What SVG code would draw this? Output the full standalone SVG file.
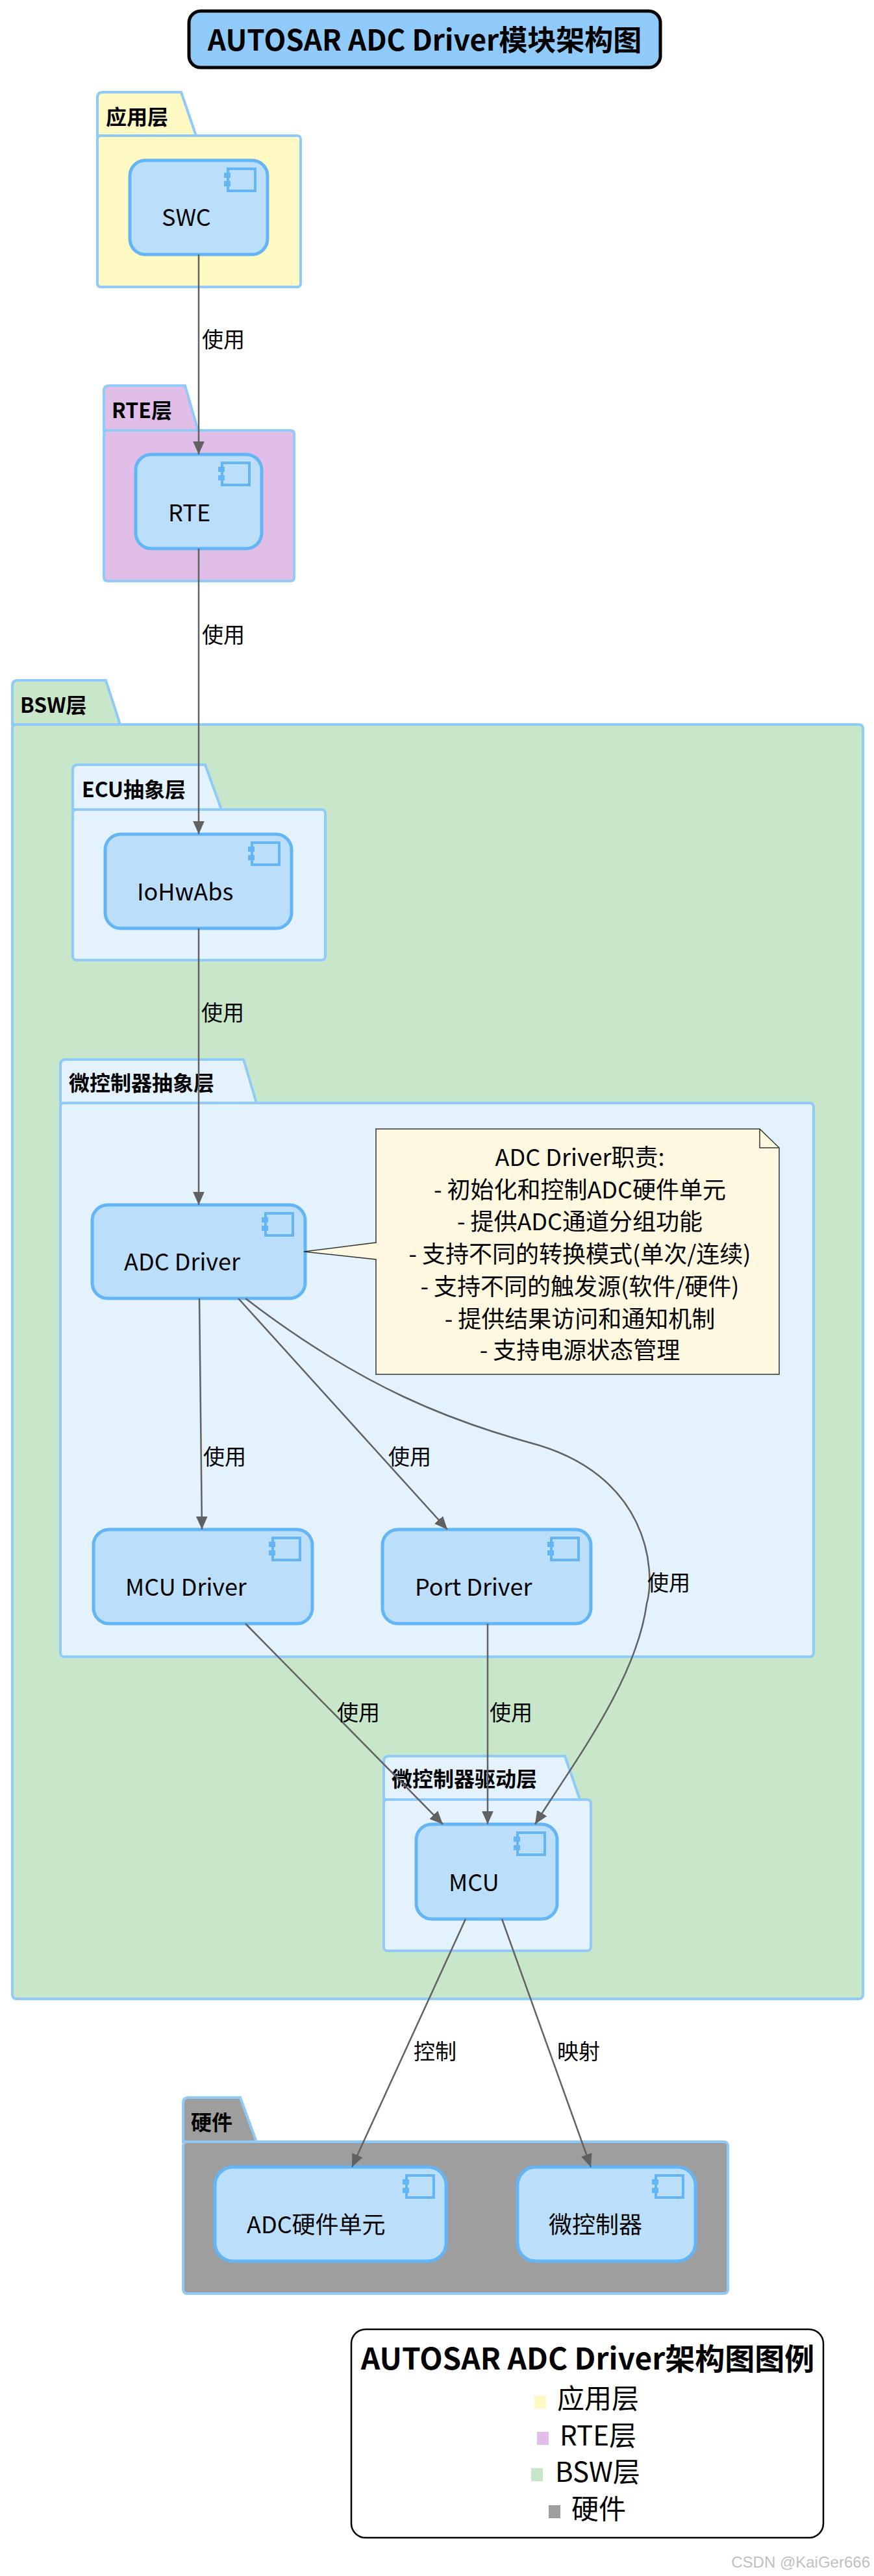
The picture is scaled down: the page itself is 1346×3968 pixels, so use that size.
<svg xmlns="http://www.w3.org/2000/svg" width="1346" height="3968" viewBox="0 0 1346 3968">
<style>
text{font-family:"Noto Sans CJK SC","Noto Sans",sans-serif;fill:#000}
.pk{stroke:#90CAF9;stroke-width:4}
.tab{font-size:32px;font-weight:bold}
.nd{fill:#BBDEFB;stroke:#64B5F6;stroke-width:5}
.nt{font-size:36px}
.ic{fill:#BBDEFB;stroke:#64B5F6;stroke-width:4}
.e{fill:none;stroke:#616161;stroke-width:2.5}
.el{font-size:33px}
.nl{font-size:36px;text-anchor:middle}
.lg{font-size:42px}
</style>
<defs>
<marker id="ah" markerWidth="40" markerHeight="40" viewBox="-20 -20 40 40" refX="0" refY="0" orient="auto" markerUnits="userSpaceOnUse">
<path d="M0,0 L-34,-15 L-24,0 L-34,15 Z" fill="#616161"/>
</marker>
<g id="icon">
<rect class="ic" x="-46" y="0" width="42" height="34"/>
<rect x="-52" y="6" width="10" height="8" fill="#64B5F6"/>
<rect x="-52" y="19" width="10" height="8" fill="#64B5F6"/>
</g>
</defs>
<rect width="1346" height="3968" fill="#fff"/>
<g id="title">
<rect x="291" y="17" width="726" height="87" rx="18" fill="#90CAF9" stroke="#000" stroke-width="5"/>
<text x="654" y="78" font-size="44" font-weight="bold" text-anchor="middle">AUTOSAR ADC Driver模块架构图</text>
</g>
<g id="pkg-app">
<path class="pk" fill="#FFF9C4" d="M150,209 L150,150 Q150,142 158,142 L279,142 L302,209 Z"/>
<rect class="pk" fill="#FFF9C4" x="150" y="209" width="313" height="233" rx="5"/>
<text class="tab" x="163" y="192">应用层</text>
</g>
<g id="pkg-rte">
<path class="pk" fill="#E1BEE7" d="M160,663 L160,602 Q160,594 168,594 L285,594 L305,663 Z"/>
<rect class="pk" fill="#E1BEE7" x="160" y="663" width="293" height="232" rx="5"/>
<text class="tab" x="172" y="644">RTE层</text>
</g>
<g id="pkg-bsw">
<path class="pk" fill="#C8E6C9" d="M19,1116 L19,1056 Q19,1048 27,1048 L163,1048 L185,1116 Z"/>
<rect class="pk" fill="#C8E6C9" x="19" y="1116" width="1310" height="1963" rx="6"/>
<text class="tab" x="31" y="1098">BSW层</text>
</g>
<g id="pkg-ecu">
<path class="pk" fill="#E3F2FD" d="M112,1247 L112,1186 Q112,1178 120,1178 L316,1178 L341,1247 Z"/>
<rect class="pk" fill="#E3F2FD" x="112" y="1247" width="389" height="232" rx="6"/>
<text class="tab" x="126" y="1228">ECU抽象层</text>
</g>
<g id="pkg-mcal">
<path class="pk" fill="#E3F2FD" d="M93,1699 L93,1640 Q93,1632 101,1632 L375,1632 L395,1699 Z"/>
<rect class="pk" fill="#E3F2FD" x="93" y="1699" width="1160" height="853" rx="6"/>
<text class="tab" x="106" y="1680">微控制器抽象层</text>
</g>
<g id="pkg-drv">
<path class="pk" fill="#E3F2FD" d="M591,2772 L591,2713 Q591,2705 599,2705 L870,2705 L893,2772 Z"/>
<rect class="pk" fill="#E3F2FD" x="591" y="2772" width="319" height="233" rx="6"/>
<text class="tab" x="603" y="2752">微控制器驱动层</text>
</g>
<g id="pkg-hw">
<path class="pk" fill="#9E9E9E" d="M282,3299 L282,3239 Q282,3231 290,3231 L370,3231 L395,3299 Z"/>
<rect class="pk" fill="#9E9E9E" x="282" y="3299" width="839" height="234" rx="6"/>
<text class="tab" x="294" y="3281">硬件</text>
</g>
<g id="n-swc"><rect class="nd" x="200" y="247" width="212" height="145" rx="24"/><use href="#icon" x="397" y="260"/><text class="nt" x="249" y="348">SWC</text></g>
<g id="n-rte"><rect class="nd" x="209" y="700" width="194" height="145" rx="24"/><use href="#icon" x="388" y="713"/><text class="nt" x="259" y="803">RTE</text></g>
<g id="n-iohwabs"><rect class="nd" x="162" y="1285" width="287" height="145" rx="24"/><use href="#icon" x="434" y="1298"/><text class="nt" x="211" y="1387">IoHwAbs</text></g>
<g id="n-adc"><rect class="nd" x="142" y="1856" width="328" height="144" rx="24"/><use href="#icon" x="455" y="1869"/><text class="nt" x="191" y="1957">ADC Driver</text></g>
<g id="n-mcudrv"><rect class="nd" x="144" y="2356" width="337" height="145" rx="24"/><use href="#icon" x="466" y="2369"/><text class="nt" x="193" y="2458">MCU Driver</text></g>
<g id="n-portdrv"><rect class="nd" x="589" y="2356" width="321" height="145" rx="24"/><use href="#icon" x="895" y="2369"/><text class="nt" x="639" y="2458">Port Driver</text></g>
<g id="n-mcu"><rect class="nd" x="641" y="2810" width="217" height="146" rx="24"/><use href="#icon" x="843" y="2823"/><text class="nt" x="691" y="2913">MCU</text></g>
<g id="n-adchw"><rect class="nd" x="331" y="3338" width="356" height="145" rx="28"/><use href="#icon" x="672" y="3351"/><text class="nt" x="380" y="3440">ADC硬件单元</text></g>
<g id="n-mc"><rect class="nd" x="797" y="3338" width="274" height="145" rx="28"/><use href="#icon" x="1056" y="3351"/><text class="nt" x="845" y="3440">微控制器</text></g>
<g id="note">
<path d="M579,1739 L1170,1739 L1200,1768 L1200,2117 L579,2117 L579,1940 L468,1928 L579,1914 Z" fill="#FFF8E1" stroke="#333" stroke-width="1.5"/>
<path d="M1170,1739 L1170,1768 L1200,1768" fill="none" stroke="#333" stroke-width="1.5"/>
<text class="nl" x="893" y="1796">ADC Driver职责:</text>
<text class="nl" x="893" y="1846">- 初始化和控制ADC硬件单元</text>
<text class="nl" x="893" y="1895">- 提供ADC通道分组功能</text>
<text class="nl" x="893" y="1945">- 支持不同的转换模式(单次/连续)</text>
<text class="nl" x="893" y="1995">- 支持不同的触发源(软件/硬件)</text>
<text class="nl" x="893" y="2045">- 提供结果访问和通知机制</text>
<text class="nl" x="893" y="2093">- 支持电源状态管理</text>
</g>
<g id="connectors">
<path class="e" marker-end="url(#ah)" d="M306,392 L306,700"/>
<path class="e" marker-end="url(#ah)" d="M306,845 L306,1285"/>
<path class="e" marker-end="url(#ah)" d="M306,1430 L306,1856"/>
<path class="e" marker-end="url(#ah)" d="M307,2000 L311,2356"/>
<path class="e" marker-end="url(#ah)" d="M367,2000 L689,2356"/>
<path class="e" marker-end="url(#ah)" d="M378,2000 C560,2140 700,2190 815,2222 C1000,2270 1010,2420 996,2470 C980,2590 880,2720 824,2810"/>
<path class="e" marker-end="url(#ah)" d="M378,2501 L682,2810"/>
<path class="e" marker-end="url(#ah)" d="M751,2501 L751,2810"/>
<path class="e" marker-end="url(#ah)" d="M717,2956 L542,3338"/>
<path class="e" marker-end="url(#ah)" d="M773,2956 L910,3338"/>
<text class="el" x="311" y="535">使用</text>
<text class="el" x="311" y="990">使用</text>
<text class="el" x="310" y="1572">使用</text>
<text class="el" x="313" y="2256">使用</text>
<text class="el" x="598" y="2256">使用</text>
<text class="el" x="997" y="2450">使用</text>
<text class="el" x="519" y="2650">使用</text>
<text class="el" x="754" y="2650">使用</text>
<text class="el" x="637" y="3172">控制</text>
<text class="el" x="858" y="3172">映射</text>
</g>
<g id="legend">
<rect x="541" y="3588" width="727" height="321" rx="22" fill="#fff" stroke="#000" stroke-width="2.5"/>
<text x="905" y="3650" font-size="46" font-weight="bold" text-anchor="middle">AUTOSAR ADC Driver架构图图例</text>
<rect x="823" y="3690" width="18" height="20" fill="#FFF9C4"/><text class="lg" x="858" y="3710">应用层</text>
<rect x="827" y="3746" width="18" height="20" fill="#E1BEE7"/><text class="lg" x="862" y="3767">RTE层</text>
<rect x="818" y="3802" width="18" height="20" fill="#C8E6C9"/><text class="lg" x="855" y="3823">BSW层</text>
<rect x="845" y="3859" width="18" height="20" fill="#9E9E9E"/><text class="lg" x="880" y="3880">硬件</text>
</g>
<text x="1340" y="3955" font-size="24" text-anchor="end" style="fill:#c0c0c0;font-family:'Liberation Sans',sans-serif">CSDN @KaiGer666</text>
</svg>
